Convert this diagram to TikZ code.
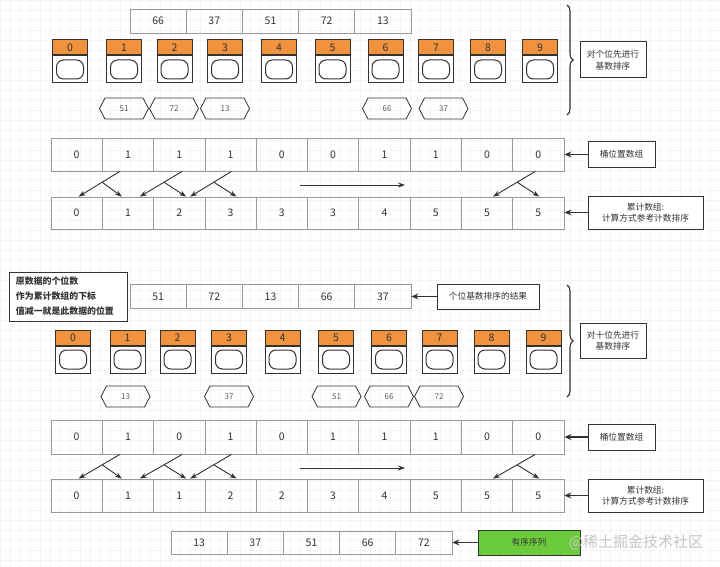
\documentclass[tikz,border=0pt]{standalone}
\usepackage{fontspec}
\newfontfamily\cjk{Noto Sans CJK SC}
\usetikzlibrary{shapes.symbols,arrows.meta,decorations.pathreplacing,calc}
\definecolor{hdr}{HTML}{F0923E}
\definecolor{grn}{HTML}{6CCB3A}
\definecolor{txt}{HTML}{333333}
\definecolor{cellline}{HTML}{9A9A9A}
\begin{document}
\begin{tikzpicture}[x=1pt,y=-1pt,
 cell/.style={draw=cellline,line width=0.8pt,inner sep=0pt,font=\cjk\fontsize{10.5}{12}\selectfont,text=txt},
 hexa/.style={signal,signal to=west and east,signal pointer angle=125,draw=txt,line width=0.8pt,minimum width=49pt,minimum height=21pt,inner sep=0pt,font=\cjk\fontsize{8}{9}\selectfont,text=txt!80},
 bhead/.style={draw=txt,line width=1pt,fill=hdr,minimum width=35pt,minimum height=15pt,inner sep=0pt,font=\cjk\fontsize{10.5}{12}\selectfont,text=txt},
 bbody/.style={draw=txt,line width=1pt,fill=white,minimum width=35pt,minimum height=27pt,inner sep=0pt,anchor=north},
 binner/.style={draw=txt,line width=1pt,rounded corners=7pt,minimum width=27pt,minimum height=19pt,inner sep=0pt},
 lbl/.style={draw=txt,line width=1pt,fill=white,align=center,inner sep=0pt,font=\cjk\fontsize{8.7}{11.5}\selectfont,text=txt},
 larrow/.style={-{Stealth[length=7pt,width=6pt]},line width=1.3pt,draw=txt},
 xarrow/.style={-{Stealth[length=7pt,width=5pt]},line width=0.9pt,draw=txt},
 bracestyle/.style={decorate,decoration={brace,amplitude=6pt},line width=1.1pt,draw=txt}
]
\useasboundingbox (0,0) rectangle (720,567);
\fill[white] (0,0) rectangle (720,567);
\draw[gray!9,line width=0.4pt] (0,0) grid[step=10pt] (720,567);

% ---------- first pass (units) ----------
\foreach \v [count=\i from 0] in {66,37,51,72,13}
  \node[cell,minimum width=56.2pt,minimum height=24pt] (d1-\i) at ({130+56.2*\i+28.1},21) {\v};

\foreach \cx [count=\i from 0] in {70,124,174.5,225,279,332.5,385.5,436,488,540} {
  \node[bhead] (bh1-\i) at (\cx,47.5) {\i};
  \node[bbody] (bb1-\i) at (bh1-\i.south) {};
  \node[binner] (bi1-\i) at (bb1-\i.center) {};
}

\node[hexa] (h1a) at (124,108.5) {51};
\node[hexa] (h1b) at (174,108.5) {72};
\node[hexa] (h1c) at (225,108.5) {13};
\node[hexa] (h1d) at (387,108.5) {66};
\node[hexa] (h1e) at (443.5,108.5) {37};

\coordinate (br1t) at (567,5);
\coordinate (br1b) at (567,115);
\draw[bracestyle] (br1t) -- (br1b);
\node[lbl,minimum width=66pt,minimum height=36pt] (L1) at (613,60) {对个位先进行\\基数排序};

\foreach \v [count=\i from 0] in {0,1,1,1,0,0,1,1,0,0}
  \node[cell,minimum width=51.3pt,minimum height=33pt] (p1-\i) at ({51+51.3*\i+25.65},154.5) {\v};
\foreach \v [count=\i from 0] in {0,1,2,3,3,3,4,5,5,5}
  \node[cell,minimum width=51.3pt,minimum height=32pt] (c1-\i) at ({51+51.3*\i+25.65},213) {\v};

\node[lbl,minimum width=67pt,minimum height=25pt] (L2) at (621.5,154.5) {桶位置数组};
\node[lbl,minimum width=115pt,minimum height=33pt] (L3) at (645.5,212.5) {累计数组:\\计算方式参考计数排序};
\draw[larrow] (L2.west) -- (L2.west -| p1-9.east);
\draw[larrow] (L3.west) -- (L3.west -| c1-9.east);

\coordinate (la1s) at (300,185);
\coordinate (la1e) at (405,185);
\draw[xarrow] (la1s) -- (la1e);

% ---------- second pass (tens) ----------
\node[lbl,align=left,minimum width=118pt,minimum height=49pt,text width=104pt,font=\cjk\bfseries\fontsize{8.9}{15}\selectfont] (N) at (68,296.5) {原数据的个位数\\作为累计数组的下标\\值减一就是此数据的位置};

\foreach \v [count=\i from 0] in {51,72,13,66,37}
  \node[cell,minimum width=56.2pt,minimum height=24pt] (d2-\i) at ({130+56.2*\i+28.1},296.5) {\v};
\node[lbl,minimum width=102pt,minimum height=25pt] (L4) at (488,296.5) {个位基数排序的结果};
\draw[larrow] (L4.west) -- (L4.west -| d2-4.east);

\foreach \cx [count=\i from 0] in {73,127.5,177.5,229,282.5,336,389,439.5,491.5,543.5} {
  \node[bhead] (bh2-\i) at (\cx,337.5) {\i};
  \node[bbody] (bb2-\i) at (bh2-\i.south) {};
  \node[binner] (bi2-\i) at (bb2-\i.center) {};
}

\node[hexa] (h2a) at (125.5,396.5) {13};
\node[hexa] (h2b) at (229,396.5) {37};
\node[hexa] (h2c) at (336.5,396.5) {51};
\node[hexa] (h2d) at (389,396.5) {66};
\node[hexa] (h2e) at (439,396.5) {72};

\coordinate (br2t) at (567,285);
\coordinate (br2b) at (567,397);
\draw[bracestyle] (br2t) -- (br2b);
\node[lbl,minimum width=66pt,minimum height=35pt] (L5) at (613,340.5) {对十位先进行\\基数排序};

\foreach \v [count=\i from 0] in {0,1,0,1,0,1,1,1,0,0}
  \node[cell,minimum width=51.3pt,minimum height=34pt] (p2-\i) at ({51+51.3*\i+25.65},437) {\v};
\foreach \v [count=\i from 0] in {0,1,1,2,2,3,4,5,5,5}
  \node[cell,minimum width=51.3pt,minimum height=33pt] (c2-\i) at ({51+51.3*\i+25.65},495.5) {\v};

\node[lbl,minimum width=67pt,minimum height=26pt] (L6) at (621.5,437) {桶位置数组};
\node[lbl,minimum width=115pt,minimum height=33pt] (L7) at (645.5,495.5) {累计数组:\\计算方式参考计数排序};
\draw[larrow] (L6.west) -- (L6.west -| p2-9.east);
\draw[larrow] (L7.west) -- (L7.west -| c2-9.east);

\coordinate (la2s) at (300,468);
\coordinate (la2e) at (405,468);
\draw[xarrow] (la2s) -- (la2e);

% ---------- cross arrows ----------
\foreach \r in {1,2} {
  \foreach \sc/\so/\lc/\lo/\rc/\ro in {1/18/0/28/1/20, 2/29/1/38/2/33, 3/27/2/37/3/32, 9/23/8/32/9/27} {
    \coordinate (s) at ($(p\r-\sc.south west)+(\so,0)$);
    \coordinate (e1) at ($(c\r-\lc.north west)+(\lo,0)$);
    \coordinate (e2) at ($(c\r-\rc.north west)+(\ro,0)$);
    \coordinate (m) at ($(s)!0.43!(e1)$);
    \draw[xarrow] (s) -- (e1);
    \draw[xarrow] (m) -- (e2);
  }
}

% ---------- final ----------
\foreach \v [count=\i from 0] in {13,37,51,66,72}
  \node[cell,minimum width=56.2pt,minimum height=23pt] (f-\i) at ({171+56.2*\i+28.1},542.5) {\v};
\node[lbl,fill=grn,minimum width=102pt,minimum height=25pt] (L8) at (529,542.5) {有序序列};
\draw[larrow] (L8.west) -- (L8.west -| f-4.east);

\node[font=\cjk\fontsize{15}{17}\selectfont,text=gray!45,inner sep=0pt] (wm) at (636,542.5) {@稀土掘金技术社区};
\end{tikzpicture}
\end{document}
